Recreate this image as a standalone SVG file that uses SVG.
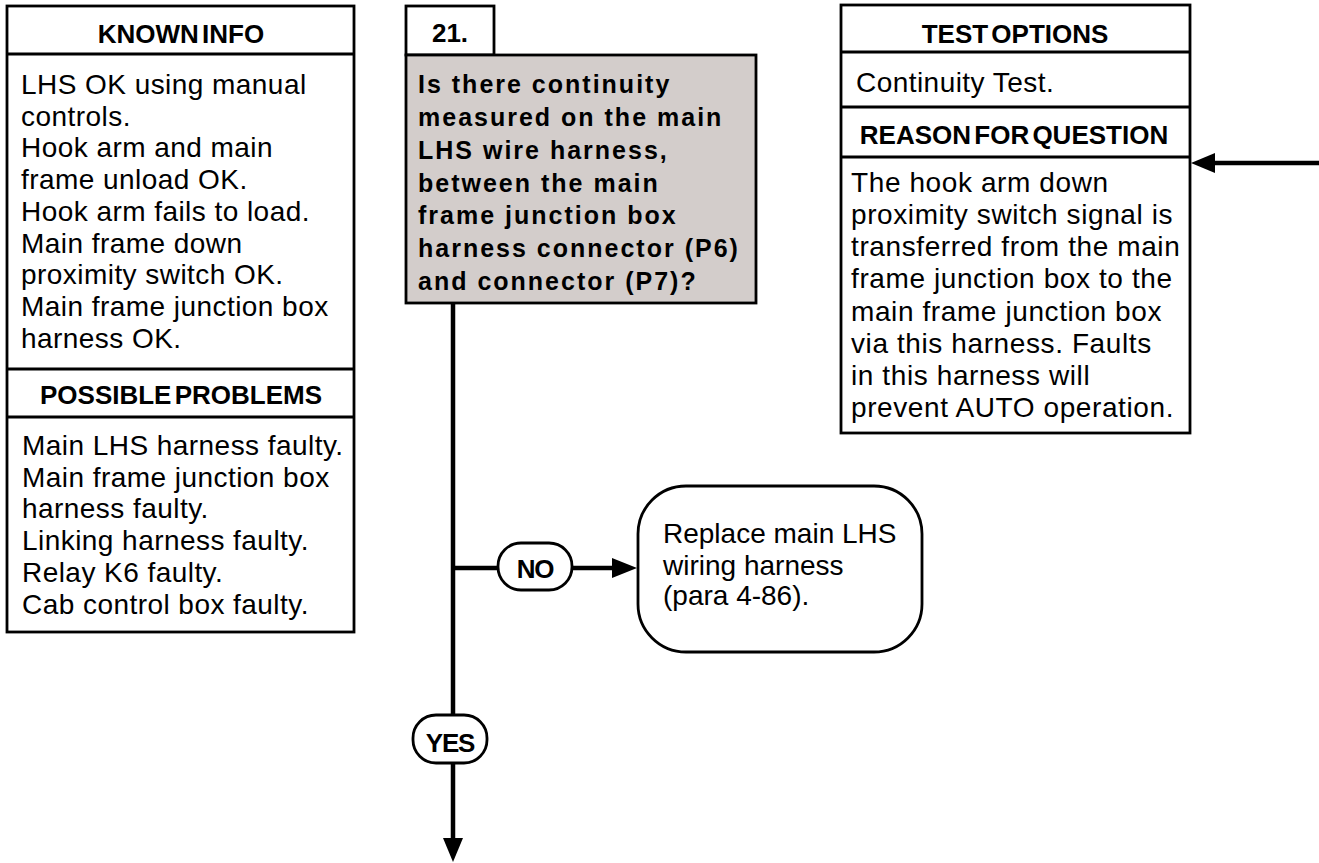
<svg xmlns="http://www.w3.org/2000/svg" width="1319" height="863" viewBox="0 0 1319 863">
<defs>
<style>
.box{fill:#fff;stroke:#000;stroke-width:2.8}
.q{fill:#d3cdcb;stroke:#000;stroke-width:2.8}
.sep{stroke:#000;stroke-width:2.8}
.hd{font-family:"Liberation Sans",Arial,sans-serif;font-weight:bold;font-size:26px;text-anchor:middle;word-spacing:-4px}
.tx{font-family:"Liberation Sans",Arial,sans-serif;font-size:28px;letter-spacing:0.45px}
.rp{font-family:"Liberation Sans",Arial,sans-serif;font-size:28px}
.qt{font-family:"Liberation Sans",Arial,sans-serif;font-weight:bold;font-size:25px;letter-spacing:2px}
.lb{font-family:"Liberation Sans",Arial,sans-serif;font-weight:bold;font-size:26px;text-anchor:middle;letter-spacing:-1.2px}
.ln{stroke:#000;stroke-width:4.5;fill:none}
</style>
</defs>
<rect width="1319" height="863" fill="#fff"/>

<g id="known-info">
<rect class="box" x="7" y="6" width="347" height="626"/>
<line class="sep" x1="7" y1="54" x2="354" y2="54"/>
<text class="hd" x="181" y="43">KNOWN INFO</text>
<text class="tx">
<tspan x="21" y="94">LHS OK using manual</tspan>
<tspan x="21" y="126">controls.</tspan>
<tspan x="21" y="157">Hook arm and main</tspan>
<tspan x="21" y="189">frame unload OK.</tspan>
<tspan x="21" y="221">Hook arm fails to load.</tspan>
<tspan x="21" y="253">Main frame down</tspan>
<tspan x="21" y="284">proximity switch OK.</tspan>
<tspan x="21" y="316">Main frame junction box</tspan>
<tspan x="21" y="348">harness OK.</tspan>
</text>
<line class="sep" x1="7" y1="369" x2="354" y2="369"/>
<text class="hd" x="181" y="404">POSSIBLE PROBLEMS</text>
<line class="sep" x1="7" y1="417" x2="354" y2="417"/>
<text class="tx">
<tspan x="22" y="455">Main LHS harness faulty.</tspan>
<tspan x="22" y="487">Main frame junction box</tspan>
<tspan x="22" y="518">harness faulty.</tspan>
<tspan x="22" y="550">Linking harness faulty.</tspan>
<tspan x="22" y="582">Relay K6 faulty.</tspan>
<tspan x="22" y="614">Cab control box faulty.</tspan>
</text>
</g>

<g id="step-21">
<rect class="box" x="406" y="6" width="88" height="49"/>
<text class="hd" x="450" y="42">21.</text>
<rect class="q" x="406" y="55" width="350" height="248"/>
<text class="qt">
<tspan x="418" y="93">Is there continuity</tspan>
<tspan x="418" y="126">measured on the main</tspan>
<tspan x="418" y="159">LHS wire harness,</tspan>
<tspan x="418" y="192">between the main</tspan>
<tspan x="418" y="224">frame junction box</tspan>
<tspan x="418" y="257">harness connector (P6)</tspan>
<tspan x="418" y="290">and connector (P7)?</tspan>
</text>
</g>

<g id="test-options">
<rect class="box" x="841" y="5" width="349" height="428"/>
<line class="sep" x1="841" y1="52" x2="1190" y2="52"/>
<text class="hd" x="1015" y="43">TEST OPTIONS</text>
<text class="tx" x="856" y="92">Continuity Test.</text>
<line class="sep" x1="841" y1="107" x2="1190" y2="107"/>
<text class="hd" x="1014" y="144">REASON FOR QUESTION</text>
<line class="sep" x1="841" y1="157" x2="1190" y2="157"/>
<text class="tx" style="letter-spacing:0.6px">
<tspan x="851" y="192">The hook arm down</tspan>
<tspan x="851" y="224">proximity switch signal is</tspan>
<tspan x="851" y="256">transferred from the main</tspan>
<tspan x="851" y="288">frame junction box to the</tspan>
<tspan x="851" y="321">main frame junction box</tspan>
<tspan x="851" y="353">via this harness.  Faults</tspan>
<tspan x="851" y="385">in this harness will</tspan>
<tspan x="851" y="417">prevent AUTO operation.</tspan>
</text>
</g>

<g id="replace-harness">
<rect class="box" x="638" y="486" width="284" height="166" rx="48" ry="48"/>
<text class="rp">
<tspan x="663" y="543">Replace main LHS</tspan>
<tspan x="663" y="575">wiring harness</tspan>
<tspan x="663" y="605">(para 4-86).</tspan>
</text>
</g>

<g id="connectors">
<line class="ln" x1="453" y1="303" x2="453" y2="840"/>
<polygon points="443,838 463,838 453,862" fill="#000"/>
<line class="ln" x1="453" y1="568" x2="498" y2="568"/>
<line class="ln" x1="572" y1="568" x2="614" y2="568"/>
<polygon points="612,558 612,578 637,568" fill="#000"/>
<line class="ln" x1="1319" y1="163" x2="1213" y2="163"/>
<polygon points="1215,153 1215,173 1191,163" fill="#000"/>
</g>

<g id="label-no">
<rect class="box" x="498" y="543" width="74" height="47" rx="23" ry="23"/>
<text class="lb" x="535" y="578">NO</text>
</g>
<g id="label-yes">
<rect class="box" x="413" y="715" width="74" height="48" rx="23" ry="23"/>
<text class="lb" x="450" y="752">YES</text>
</g>
</svg>
